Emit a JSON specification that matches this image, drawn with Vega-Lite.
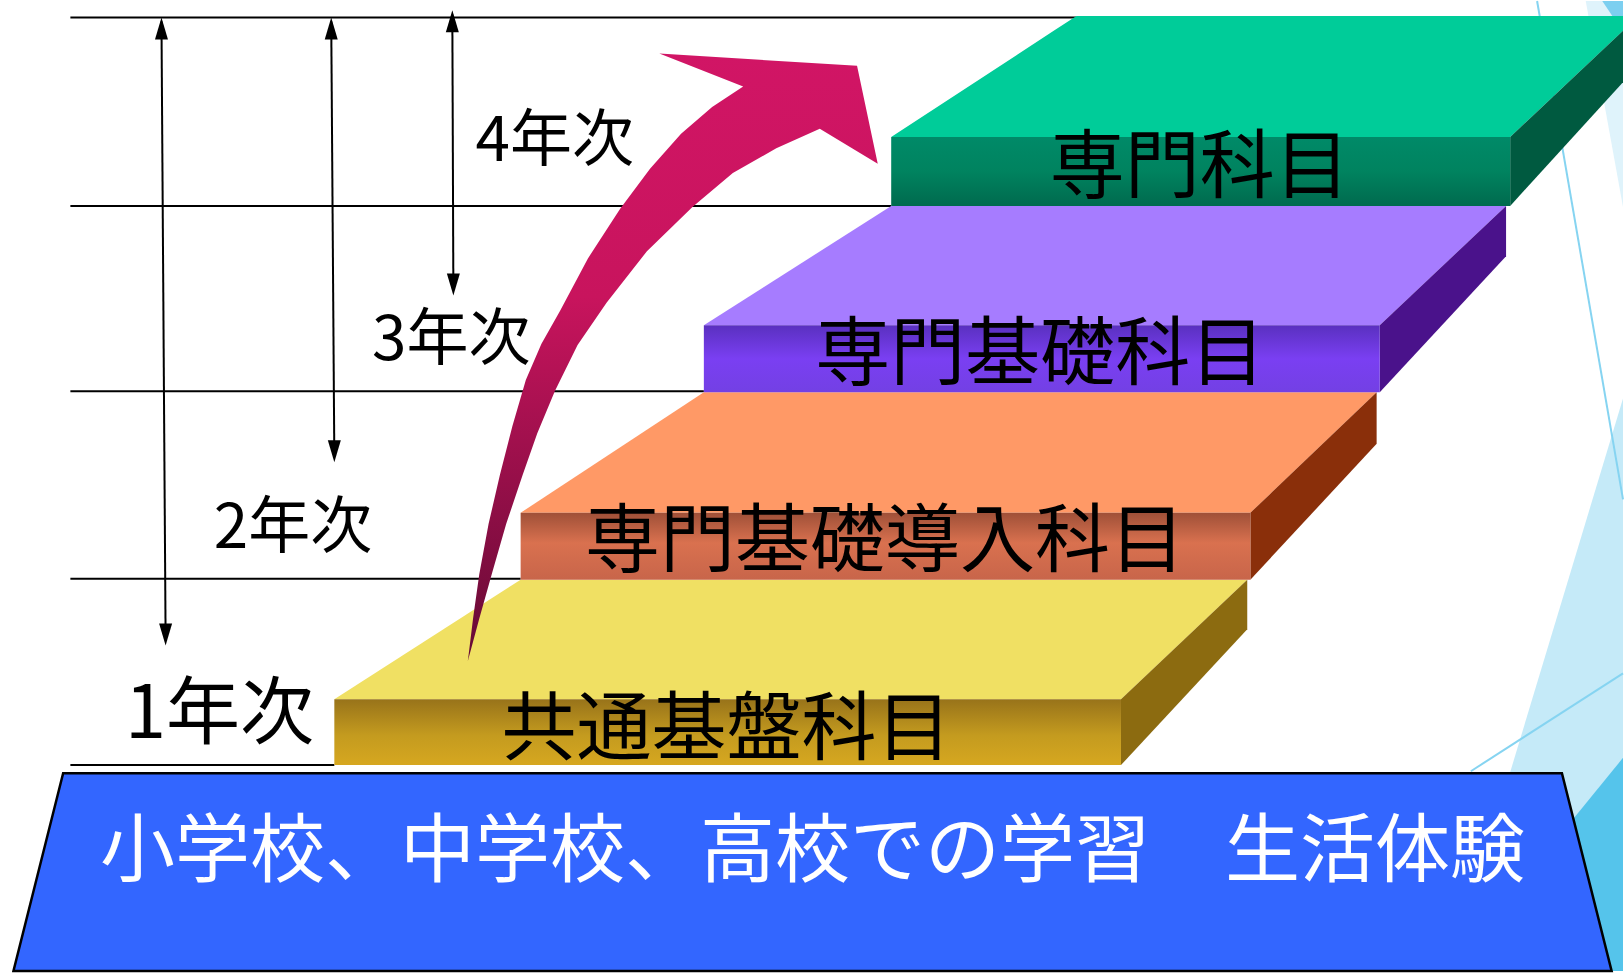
{
  "$schema": "https://vega.github.io/schema/vega-lite/v6.json",
  "width": 1624,
  "height": 976,
  "autosize": {"type": "fit", "contains": "padding"},
  "padding": 0,
  "background": "white",
  "config": {"view": {"stroke": null}},
  "resolve": {"scale": {"color": "independent"}},
  "datasets": {
    "decor": [
      {"part": "strip", "y": 0, "xl": 1532, "xr": 1568},
      {"part": "strip", "y": 200, "xl": 1568, "xr": 1568},
      {"part": "corner", "y": 0, "xl": 1548, "xr": 1568},
      {"part": "corner", "y": 30, "xl": 1568, "xr": 1568},
      {"part": "pale", "y": 386, "xl": 1568, "xr": 1568},
      {"part": "pale", "y": 942, "xl": 1401, "xr": 1568},
      {"part": "sky", "y": 735, "xl": 1568, "xr": 1568},
      {"part": "sky", "y": 942, "xl": 1400, "xr": 1568}
    ],
    "dlines": [
      {"x1": 1485, "y1": 0, "x2": 1568, "y2": 484},
      {"x1": 1421, "y1": 748, "x2": 1568, "y2": 653}
    ],
    "hlines": [
      {"y": 16, "x1": 68, "x2": 1040},
      {"y": 199, "x1": 68, "x2": 861},
      {"y": 379, "x1": 68, "x2": 680},
      {"y": 561, "x1": 68, "x2": 503},
      {"y": 742, "x1": 68, "x2": 323}
    ],
    "vlines": [
      {"x1": 156, "y1": 20, "x2": 160, "y2": 620},
      {"x1": 320, "y1": 20, "x2": 323, "y2": 442},
      {"x1": 437, "y1": 13, "x2": 438, "y2": 280}
    ],
    "heads": [
      {"x": 156, "y": 16, "dir": "up"},
      {"x": 320, "y": 16, "dir": "up"},
      {"x": 437, "y": 9, "dir": "up"},
      {"x": 160, "y": 626, "dir": "down"},
      {"x": 323, "y": 448, "dir": "down"},
      {"x": 438, "y": 286, "dir": "down"}
    ],
    "tops": [
      {"face": "yellow", "y": 562, "xl": 503, "xr": 1205},
      {"face": "yellow", "y": 678, "xl": 323, "xr": 1083},
      {"face": "orange", "y": 380, "xl": 680, "xr": 1330},
      {"face": "orange", "y": 497, "xl": 503, "xr": 1208},
      {"face": "purple", "y": 199, "xl": 861, "xr": 1455},
      {"face": "purple", "y": 315, "xl": 680, "xr": 1333},
      {"face": "green", "y": 14.5, "xl": 1040, "xr": 1568},
      {"face": "green", "y": 29, "xl": 1018, "xr": 1568},
      {"face": "green", "y": 132, "xl": 861, "xr": 1459}
    ],
    "sides": [
      {"face": "yellow", "x": 1083, "yt": 678, "yb": 742},
      {"face": "yellow", "x": 1205, "yt": 562, "yb": 610},
      {"face": "orange", "x": 1208, "yt": 497, "yb": 562},
      {"face": "orange", "x": 1330, "yt": 380, "yb": 430},
      {"face": "purple", "x": 1333, "yt": 315, "yb": 380},
      {"face": "purple", "x": 1455, "yt": 199, "yb": 248},
      {"face": "green", "x": 1459, "yt": 132, "yb": 199},
      {"face": "green", "x": 1568, "yt": 29, "yb": 79}
    ],
    "fronts": [
      {"face": "yellow", "x1": 323, "x2": 1083, "y1": 678, "y2": 742},
      {"face": "orange", "x1": 503, "x2": 1208, "y1": 497, "y2": 562},
      {"face": "purple", "x1": 680, "x2": 1333, "y1": 315, "y2": 380},
      {"face": "green", "x1": 861, "x2": 1459, "y1": 132, "y2": 199}
    ],
    "base": [
      {"y": 750, "xl": 61, "xr": 1509},
      {"y": 942, "xl": 13, "xr": 1557}
    ],
    "arrow": [
      {"i": 1, "x": 452, "y": 641},
      {"i": 2, "x": 457, "y": 600},
      {"i": 3, "x": 463, "y": 557},
      {"i": 4, "x": 472, "y": 508},
      {"i": 5, "x": 483, "y": 460},
      {"i": 6, "x": 495, "y": 413},
      {"i": 7, "x": 508, "y": 368},
      {"i": 8, "x": 523, "y": 333},
      {"i": 9, "x": 541, "y": 301},
      {"i": 10, "x": 568, "y": 250},
      {"i": 11, "x": 599, "y": 202},
      {"i": 12, "x": 628, "y": 163},
      {"i": 13, "x": 658, "y": 129},
      {"i": 14, "x": 688, "y": 103},
      {"i": 15, "x": 718, "y": 83},
      {"i": 16, "x": 637, "y": 51},
      {"i": 17, "x": 828, "y": 63},
      {"i": 18, "x": 848, "y": 158},
      {"i": 19, "x": 792, "y": 124},
      {"i": 20, "x": 750, "y": 143},
      {"i": 21, "x": 708, "y": 167},
      {"i": 22, "x": 669, "y": 200},
      {"i": 23, "x": 625, "y": 243},
      {"i": 24, "x": 586, "y": 293},
      {"i": 25, "x": 558, "y": 334},
      {"i": 26, "x": 536, "y": 379},
      {"i": 27, "x": 519, "y": 420},
      {"i": 28, "x": 505, "y": 460},
      {"i": 29, "x": 489, "y": 508},
      {"i": 30, "x": 475, "y": 557},
      {"i": 31, "x": 463, "y": 600},
      {"i": 32, "x": 452, "y": 641}
    ],
    "years": [
      {"label": "4年次", "x": 536, "y": 137},
      {"label": "3年次", "x": 436, "y": 330},
      {"label": "2年次", "x": 283, "y": 513}
    ],
    "year1": [
      {"label": "1年次", "x": 212, "y": 694}
    ],
    "subjects": [
      {"label": "専門科目", "x": 1159, "y": 163},
      {"label": "専門基礎科目", "x": 1005, "y": 345},
      {"label": "専門基礎導入科目", "x": 855, "y": 526},
      {"label": "共通基盤科目", "x": 702, "y": 709}
    ],
    "baselabel": [
      {"label": "小学校、中学校、高校での学習　生活体験", "x": 785, "y": 827}
    ]
  },
  "layer": [
    {
      "data": {"name": "decor"},
      "transform": [{"filter": "datum.part == 'strip'"}],
      "mark": {"type": "area", "orient": "horizontal", "fill": "#dff3fb"},
      "encoding": {
        "y": {"field": "y", "type": "quantitative", "scale": {"domain": [0, 942], "reverse": true, "nice": false, "zero": false}, "axis": null},
        "x": {"field": "xl", "type": "quantitative", "scale": {"domain": [0, 1568], "nice": false, "zero": false}, "axis": null},
        "x2": {"field": "xr"}
      }
    },
    {
      "data": {"name": "decor"},
      "transform": [{"filter": "datum.part == 'corner'"}],
      "mark": {"type": "area", "orient": "horizontal", "fill": "#7ccff0"},
      "encoding": {
        "y": {"field": "y", "type": "quantitative", "scale": {"domain": [0, 942], "reverse": true, "nice": false, "zero": false}, "axis": null},
        "x": {"field": "xl", "type": "quantitative", "scale": {"domain": [0, 1568], "nice": false, "zero": false}, "axis": null},
        "x2": {"field": "xr"}
      }
    },
    {
      "data": {"name": "decor"},
      "transform": [{"filter": "datum.part == 'pale'"}],
      "mark": {"type": "area", "orient": "horizontal", "fill": "#c5eaf8"},
      "encoding": {
        "y": {"field": "y", "type": "quantitative", "scale": {"domain": [0, 942], "reverse": true, "nice": false, "zero": false}, "axis": null},
        "x": {"field": "xl", "type": "quantitative", "scale": {"domain": [0, 1568], "nice": false, "zero": false}, "axis": null},
        "x2": {"field": "xr"}
      }
    },
    {
      "data": {"name": "decor"},
      "transform": [{"filter": "datum.part == 'sky'"}],
      "mark": {"type": "area", "orient": "horizontal", "fill": "#55c4eb"},
      "encoding": {
        "y": {"field": "y", "type": "quantitative", "scale": {"domain": [0, 942], "reverse": true, "nice": false, "zero": false}, "axis": null},
        "x": {"field": "xl", "type": "quantitative", "scale": {"domain": [0, 1568], "nice": false, "zero": false}, "axis": null},
        "x2": {"field": "xr"}
      }
    },
    {
      "data": {"name": "dlines"},
      "mark": {"type": "rule", "stroke": "#86d4f1", "strokeWidth": 2},
      "encoding": {
        "x": {"field": "x1", "type": "quantitative", "scale": {"domain": [0, 1568], "nice": false, "zero": false}, "axis": null},
        "x2": {"field": "x2"},
        "y": {"field": "y1", "type": "quantitative", "scale": {"domain": [0, 942], "reverse": true, "nice": false, "zero": false}, "axis": null},
        "y2": {"field": "y2"}
      }
    },
    {
      "data": {"name": "hlines"},
      "mark": {"type": "rule", "stroke": "#000000", "strokeWidth": 2},
      "encoding": {
        "x": {"field": "x1", "type": "quantitative", "scale": {"domain": [0, 1568], "nice": false, "zero": false}, "axis": null},
        "x2": {"field": "x2"},
        "y": {"field": "y", "type": "quantitative", "scale": {"domain": [0, 942], "reverse": true, "nice": false, "zero": false}, "axis": null}
      }
    },
    {
      "data": {"name": "vlines"},
      "mark": {"type": "rule", "stroke": "#000000", "strokeWidth": 2},
      "encoding": {
        "x": {"field": "x1", "type": "quantitative", "scale": {"domain": [0, 1568], "nice": false, "zero": false}, "axis": null},
        "x2": {"field": "x2"},
        "y": {"field": "y1", "type": "quantitative", "scale": {"domain": [0, 942], "reverse": true, "nice": false, "zero": false}, "axis": null},
        "y2": {"field": "y2"}
      }
    },
    {
      "data": {"name": "heads"},
      "transform": [{"filter": "datum.dir == 'up'"}],
      "mark": {"type": "point", "shape": "M0,0L0.65,2.2L-0.65,2.2Z", "size": 400, "filled": true, "color": "#000000", "opacity": 1},
      "encoding": {
        "x": {"field": "x", "type": "quantitative", "scale": {"domain": [0, 1568], "nice": false, "zero": false}, "axis": null},
        "y": {"field": "y", "type": "quantitative", "scale": {"domain": [0, 942], "reverse": true, "nice": false, "zero": false}, "axis": null}
      }
    },
    {
      "data": {"name": "heads"},
      "transform": [{"filter": "datum.dir == 'down'"}],
      "mark": {"type": "point", "shape": "M0,0L0.65,-2.2L-0.65,-2.2Z", "size": 400, "filled": true, "color": "#000000", "opacity": 1},
      "encoding": {
        "x": {"field": "x", "type": "quantitative", "scale": {"domain": [0, 1568], "nice": false, "zero": false}, "axis": null},
        "y": {"field": "y", "type": "quantitative", "scale": {"domain": [0, 942], "reverse": true, "nice": false, "zero": false}, "axis": null}
      }
    },
    {
      "data": {"name": "tops"},
      "mark": {"type": "area", "orient": "horizontal", "opacity": 1},
      "encoding": {
        "y": {"field": "y", "type": "quantitative", "scale": {"domain": [0, 942], "reverse": true, "nice": false, "zero": false}, "axis": null},
        "x": {"field": "xl", "type": "quantitative", "scale": {"domain": [0, 1568], "nice": false, "zero": false}, "axis": null},
        "x2": {"field": "xr"},
        "color": {"field": "face", "type": "nominal", "scale": {"domain": ["yellow", "orange", "purple", "green"], "range": ["#f0e063", "#ff9966", "#a67cff", "#00cc99"]}, "legend": null}
      }
    },
    {
      "data": {"name": "sides"},
      "mark": {"type": "area", "orient": "vertical", "opacity": 1},
      "encoding": {
        "x": {"field": "x", "type": "quantitative", "scale": {"domain": [0, 1568], "nice": false, "zero": false}, "axis": null},
        "y": {"field": "yt", "type": "quantitative", "scale": {"domain": [0, 942], "reverse": true, "nice": false, "zero": false}, "axis": null},
        "y2": {"field": "yb"},
        "color": {"field": "face", "type": "nominal", "scale": {"domain": ["yellow", "orange", "purple", "green"], "range": ["#8c6b10", "#8a2f0a", "#4a128b", "#005a40"]}, "legend": null}
      }
    },
    {
      "data": {"name": "fronts"},
      "transform": [{"filter": "datum.face == 'yellow'"}],
      "mark": {"type": "rect", "fill": {"gradient": "linear", "x1": 0, "y1": 0, "x2": 0, "y2": 1, "stops": [{"offset": 0, "color": "#98731a"}, {"offset": 0.55, "color": "#c49b1f"}, {"offset": 1, "color": "#d6a720"}]}},
      "encoding": {
        "x": {"field": "x1", "type": "quantitative", "scale": {"domain": [0, 1568], "nice": false, "zero": false}, "axis": null},
        "x2": {"field": "x2"},
        "y": {"field": "y1", "type": "quantitative", "scale": {"domain": [0, 942], "reverse": true, "nice": false, "zero": false}, "axis": null},
        "y2": {"field": "y2"}
      }
    },
    {
      "data": {"name": "fronts"},
      "transform": [{"filter": "datum.face == 'orange'"}],
      "mark": {"type": "rect", "fill": {"gradient": "linear", "x1": 0, "y1": 0, "x2": 0, "y2": 1, "stops": [{"offset": 0, "color": "#9f5038"}, {"offset": 0.45, "color": "#d9714f"}, {"offset": 1, "color": "#c8654a"}]}},
      "encoding": {
        "x": {"field": "x1", "type": "quantitative", "scale": {"domain": [0, 1568], "nice": false, "zero": false}, "axis": null},
        "x2": {"field": "x2"},
        "y": {"field": "y1", "type": "quantitative", "scale": {"domain": [0, 942], "reverse": true, "nice": false, "zero": false}, "axis": null},
        "y2": {"field": "y2"}
      }
    },
    {
      "data": {"name": "fronts"},
      "transform": [{"filter": "datum.face == 'purple'"}],
      "mark": {"type": "rect", "fill": {"gradient": "linear", "x1": 0, "y1": 0, "x2": 0, "y2": 1, "stops": [{"offset": 0, "color": "#5a30c0"}, {"offset": 0.5, "color": "#7a3ff2"}, {"offset": 1, "color": "#7340e4"}]}},
      "encoding": {
        "x": {"field": "x1", "type": "quantitative", "scale": {"domain": [0, 1568], "nice": false, "zero": false}, "axis": null},
        "x2": {"field": "x2"},
        "y": {"field": "y1", "type": "quantitative", "scale": {"domain": [0, 942], "reverse": true, "nice": false, "zero": false}, "axis": null},
        "y2": {"field": "y2"}
      }
    },
    {
      "data": {"name": "fronts"},
      "transform": [{"filter": "datum.face == 'green'"}],
      "mark": {"type": "rect", "fill": {"gradient": "linear", "x1": 0, "y1": 0, "x2": 0, "y2": 1, "stops": [{"offset": 0, "color": "#008a68"}, {"offset": 0.5, "color": "#00835f"}, {"offset": 1, "color": "#006a4e"}]}},
      "encoding": {
        "x": {"field": "x1", "type": "quantitative", "scale": {"domain": [0, 1568], "nice": false, "zero": false}, "axis": null},
        "x2": {"field": "x2"},
        "y": {"field": "y1", "type": "quantitative", "scale": {"domain": [0, 942], "reverse": true, "nice": false, "zero": false}, "axis": null},
        "y2": {"field": "y2"}
      }
    },
    {
      "data": {"name": "base"},
      "mark": {"type": "area", "orient": "horizontal", "fill": "#3366ff", "stroke": "#000000", "strokeWidth": 2.5, "opacity": 1},
      "encoding": {
        "y": {"field": "y", "type": "quantitative", "scale": {"domain": [0, 942], "reverse": true, "nice": false, "zero": false}, "axis": null},
        "x": {"field": "xl", "type": "quantitative", "scale": {"domain": [0, 1568], "nice": false, "zero": false}, "axis": null},
        "x2": {"field": "xr"}
      }
    },
    {
      "data": {"name": "arrow"},
      "mark": {"type": "line", "strokeWidth": 0, "fill": {"gradient": "linear", "x1": 0, "y1": 0, "x2": 0, "y2": 1, "stops": [{"offset": 0, "color": "#d11565"}, {"offset": 0.4, "color": "#c8145d"}, {"offset": 1, "color": "#650a35"}]}},
      "encoding": {
        "x": {"field": "x", "type": "quantitative", "scale": {"domain": [0, 1568], "nice": false, "zero": false}, "axis": null},
        "y": {"field": "y", "type": "quantitative", "scale": {"domain": [0, 942], "reverse": true, "nice": false, "zero": false}, "axis": null},
        "order": {"field": "i", "type": "quantitative"}
      }
    },
    {
      "data": {"name": "years"},
      "mark": {"type": "text", "font": "Noto Sans CJK JP", "fontSize": 62, "align": "center", "baseline": "middle", "color": "#000000"},
      "encoding": {
        "x": {"field": "x", "type": "quantitative", "scale": {"domain": [0, 1568], "nice": false, "zero": false}, "axis": null},
        "y": {"field": "y", "type": "quantitative", "scale": {"domain": [0, 942], "reverse": true, "nice": false, "zero": false}, "axis": null},
        "text": {"field": "label"}
      }
    },
    {
      "data": {"name": "year1"},
      "mark": {"type": "text", "font": "Noto Sans CJK JP", "fontSize": 74, "align": "center", "baseline": "middle", "color": "#000000"},
      "encoding": {
        "x": {"field": "x", "type": "quantitative", "scale": {"domain": [0, 1568], "nice": false, "zero": false}, "axis": null},
        "y": {"field": "y", "type": "quantitative", "scale": {"domain": [0, 942], "reverse": true, "nice": false, "zero": false}, "axis": null},
        "text": {"field": "label"}
      }
    },
    {
      "data": {"name": "subjects"},
      "mark": {"type": "text", "font": "Noto Sans CJK JP", "fontSize": 75, "align": "center", "baseline": "middle", "color": "#000000"},
      "encoding": {
        "x": {"field": "x", "type": "quantitative", "scale": {"domain": [0, 1568], "nice": false, "zero": false}, "axis": null},
        "y": {"field": "y", "type": "quantitative", "scale": {"domain": [0, 942], "reverse": true, "nice": false, "zero": false}, "axis": null},
        "text": {"field": "label"}
      }
    },
    {
      "data": {"name": "baselabel"},
      "mark": {"type": "text", "font": "Noto Sans CJK JP", "fontSize": 75, "align": "center", "baseline": "middle", "color": "#ffffff"},
      "encoding": {
        "x": {"field": "x", "type": "quantitative", "scale": {"domain": [0, 1568], "nice": false, "zero": false}, "axis": null},
        "y": {"field": "y", "type": "quantitative", "scale": {"domain": [0, 942], "reverse": true, "nice": false, "zero": false}, "axis": null},
        "text": {"field": "label"}
      }
    }
  ]
}
